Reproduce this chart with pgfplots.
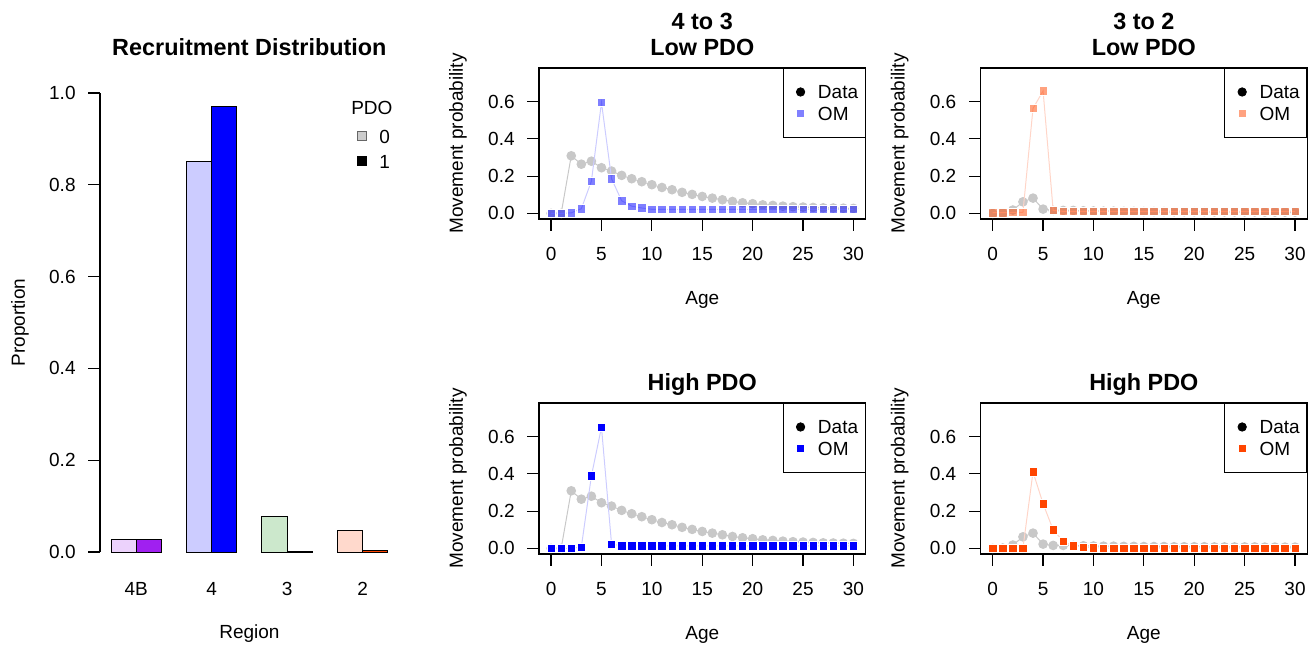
\documentclass[border=0pt]{standalone}
\usepackage{fontspec}
\setmainfont{Liberation Sans}
\usepackage{pgfplots}
\usepackage{pgfplotstable}
\pgfplotsset{compat=1.18}

\definecolor{purpleL}{HTML}{ECD2FC}
\definecolor{purpleD}{HTML}{A020F0}
\definecolor{blueL}{HTML}{CCCCFF}
\definecolor{blueD}{HTML}{0000FF}
\definecolor{greenL}{HTML}{CCE8CC}
\definecolor{greenD}{HTML}{008B00}
\definecolor{redL}{HTML}{FFD9CC}
\definecolor{redD}{HTML}{FF4500}
\definecolor{datagray}{HTML}{C8C8C8}
\definecolor{blueline}{HTML}{CCCCFF}
\definecolor{redline}{HTML}{FFD5C8}
\definecolor{blueblend}{HTML}{8080FF}
\definecolor{redblend}{HTML}{FFA280}

% movement probabilities by age
\pgfplotstableread{
age d43   oml43 omh43 d32   oml32 omh32
0   0.000 0.000 0.000 0.000 0.004 0.000
1   0.000 0.000 0.000 0.002 0.004 0.000
2   0.309 0.003 0.000 0.018 0.005 0.000
3   0.264 0.025 0.007 0.062 0.005 0.000
4   0.280 0.173 0.389 0.082 0.563 0.410
5   0.245 0.595 0.650 0.023 0.657 0.240
6   0.227 0.186 0.023 0.016 0.016 0.099
7   0.204 0.068 0.014 0.016 0.011 0.039
8   0.186 0.039 0.014 0.016 0.011 0.014
9   0.170 0.029 0.014 0.014 0.011 0.007
10  0.154 0.022 0.014 0.013 0.011 0.003
11  0.139 0.022 0.014 0.012 0.011 0.002
12  0.127 0.022 0.014 0.012 0.011 0.001
13  0.113 0.022 0.014 0.011 0.011 0.001
14  0.102 0.022 0.014 0.011 0.011 0.001
15  0.091 0.022 0.014 0.010 0.011 0.001
16  0.082 0.022 0.014 0.010 0.011 0.001
17  0.073 0.022 0.014 0.010 0.011 0.001
18  0.064 0.022 0.014 0.009 0.011 0.001
19  0.057 0.022 0.014 0.009 0.011 0.001
20  0.052 0.022 0.014 0.009 0.011 0.001
21  0.046 0.022 0.014 0.009 0.011 0.001
22  0.043 0.022 0.014 0.008 0.011 0.001
23  0.039 0.022 0.014 0.008 0.011 0.001
24  0.036 0.022 0.014 0.008 0.011 0.001
25  0.034 0.022 0.014 0.008 0.011 0.001
26  0.032 0.022 0.014 0.008 0.011 0.001
27  0.030 0.022 0.014 0.007 0.011 0.001
28  0.029 0.022 0.014 0.007 0.011 0.001
29  0.028 0.022 0.014 0.007 0.011 0.001
30  0.027 0.022 0.014 0.007 0.011 0.001
}\movetable

\tikzset{titlefont/.style={font=\bfseries\fontsize{11.7}{14}\selectfont}}

\pgfplotsset{
  every axis/.append style={
    font=\fontsize{9.5}{11.4}\selectfont,
    /pgf/number format/assume math mode=true,
    scale only axis,
    tick align=outside,
    major tick length=5.8pt,
    every tick/.style={black, line width=0.6pt},
    yticklabel style={anchor=east, inner sep=0pt, xshift=-6.2pt},
  },
  legmark/.style={legend image code/.code={%
    \path[draw=none, fill=none] (0pt,-3pt) rectangle (14pt,3pt);
    \draw[##1] plot coordinates {(5.3pt,0pt)};}},
  panel/.style={
    anchor=south west,
    width=163.25pt, height=75.5pt,
    xmin=-1.2, xmax=31.2, ymin=-0.03, ymax=0.78,
    clip mode=individual,
    xtick={0,5,10,15,20,25,30},
    ytick={0,0.2,0.4,0.6},
    yticklabel style={/pgf/number format/fixed, /pgf/number format/fixed zerofill,
      /pgf/number format/precision=1},
    xticklabel style={anchor=north, inner sep=0pt, yshift=-8.2pt},
    xtick pos=bottom, ytick pos=left,
    axis line style={line width=0.6pt},
    xlabel={Age}, ylabel={Movement probability},
    every axis x label/.style={at={(axis description cs:0.5,-0.537)}, anchor=center},
    every axis y label/.style={at={(axis description cs:-0.248,0.5)}, rotate=90, anchor=center},
    every axis title/.style={at={(axis description cs:0.5,1)}, anchor=base, yshift=6.2pt, titlefont},
    legend style={at={(axis description cs:1,1)}, anchor=north east, draw=black,
      inner xsep=3.5pt, inner ysep=8.3pt, row sep=3.8pt,
      nodes={inner sep=0pt, text height=7pt, text depth=0pt}},
    legend cell align=left,
  },
  dataplot/.style={forget plot, draw=datagray, line width=0.5pt, mark=*, mark size=2.15pt,
    mark options={draw=none, fill=datagray}},
  omplot/.style={forget plot, draw=#1, line width=0.5pt, mark=square*, mark size=2.1pt},
}

\begin{document}
\begin{tikzpicture}
\path (0pt,0pt) rectangle (656.5pt,324pt);

% recruitment bar chart
\begin{axis}[
  at={(50pt,38.8pt)}, anchor=south west,
  width=149.4pt, height=247.9pt,
  xmin=0.56, xmax=12.44, ymin=-0.04, ymax=1.04,
  axis line style={draw=none},
  xtick={2,5,8,11}, xticklabels={4B,4,3,2},
  xtick style={draw=none},
  xticklabel style={anchor=north, inner sep=0pt, yshift=0pt},
  ytick={0,0.2,0.4,0.6,0.8,1},
  yticklabel style={/pgf/number format/fixed, /pgf/number format/fixed zerofill,
    /pgf/number format/precision=1},
  xtick pos=bottom, ytick pos=left,
  xlabel={Region}, ylabel={Proportion},
  every axis x label/.style={at={(axis description cs:0.5,-0.127)}, anchor=center},
  every axis y label/.style={at={(axis description cs:-0.2677,0.5)}, rotate=90, anchor=center},
  title={Recruitment Distribution},
  every axis title/.style={at={(axis description cs:0.5,1)}, anchor=base, yshift=9.7pt, titlefont},
  clip=false,
  legend style={at={(axis description cs:0.84,0.891)}, anchor=north west, draw=none, fill=none,
    inner xsep=0pt, inner ysep=0pt, row sep=5.5pt,
    nodes={inner sep=0pt, text height=7pt, text depth=0pt}},
  legend cell align=left,
]
\draw[line width=0.6pt] (axis cs:0.56,0) -- (axis cs:0.56,1);
\addplot[forget plot, ybar, bar width=1, bar shift=0pt, fill=purpleL, draw=black, line width=0.5pt] coordinates {(1.5,0.027)};
\addplot[forget plot, ybar, bar width=1, bar shift=0pt, fill=purpleD, draw=black, line width=0.5pt] coordinates {(2.5,0.028)};
\addplot[forget plot, ybar, bar width=1, bar shift=0pt, fill=blueL, draw=black, line width=0.5pt] coordinates {(4.5,0.850)};
\addplot[forget plot, ybar, bar width=1, bar shift=0pt, fill=blueD, draw=black, line width=0.5pt] coordinates {(5.5,0.970)};
\addplot[forget plot, ybar, bar width=1, bar shift=0pt, fill=greenL, draw=black, line width=0.5pt] coordinates {(7.5,0.077)};
\addplot[forget plot, ybar, bar width=1, bar shift=0pt, fill=greenD, draw=black, line width=0.5pt] coordinates {(8.5,0.002)};
\addplot[forget plot, ybar, bar width=1, bar shift=0pt, fill=redL, draw=black, line width=0.5pt] coordinates {(10.5,0.046)};
\addplot[forget plot, ybar, bar width=1, bar shift=0pt, fill=redD, draw=black, line width=0.5pt] coordinates {(11.5,0.004)};
\node at (axis description cs:0.91,0.933) {PDO};
\addlegendimage{legmark, mark=square*, mark size=2.1pt, mark options={fill=gray!40, draw=black!60, line width=0.5pt}}
\addlegendentry{0}
\addlegendimage{legmark, mark=square*, mark size=2.1pt, mark options={fill=black, draw=black}}
\addlegendentry{1}
\end{axis}

% 4 to 3, low PDO
\begin{axis}[panel, at={(269.5pt,214.5pt)}, title={Low PDO}]
\node[titlefont, anchor=base] at (axis description cs:0.5,1) [yshift=19.2pt] {4 to 3};
\addplot[dataplot] table[x=age, y=d43] {\movetable};
\addplot[omplot=blueline, mark options={fill=blueD, fill opacity=0.5, draw=white, line width=0.3pt}] table[x=age, y=oml43] {\movetable};
\addlegendimage{legmark, mark=*, mark size=2.1pt, mark options={fill=black, draw=black}}
\addlegendentry{Data}
\addlegendimage{legmark, mark=square*, mark size=2.1pt, mark options={fill=blueblend, draw=white}}
\addlegendentry{OM}
\end{axis}

% 3 to 2, low PDO
\begin{axis}[panel, at={(490.3pt,214.5pt)}, title={Low PDO}]
\node[titlefont, anchor=base] at (axis description cs:0.5,1) [yshift=19.2pt] {3 to 2};
\addplot[dataplot] table[x=age, y=d32] {\movetable};
\addplot[omplot=redline, mark options={fill=redD, fill opacity=0.5, draw=white, line width=0.3pt}] table[x=age, y=oml32] {\movetable};
\addlegendimage{legmark, mark=*, mark size=2.1pt, mark options={fill=black, draw=black}}
\addlegendentry{Data}
\addlegendimage{legmark, mark=square*, mark size=2.1pt, mark options={fill=redblend, draw=white}}
\addlegendentry{OM}
\end{axis}

% 4 to 3, high PDO
\begin{axis}[panel, at={(269.5pt,47pt)}, title={High PDO}]
\addplot[dataplot] table[x=age, y=d43] {\movetable};
\addplot[omplot=blueline, mark options={fill=blueD, draw=white, line width=0.3pt}] table[x=age, y=omh43] {\movetable};
\addlegendimage{legmark, mark=*, mark size=2.1pt, mark options={fill=black, draw=black}}
\addlegendentry{Data}
\addlegendimage{legmark, mark=square*, mark size=2.1pt, mark options={fill=blueD, draw=white}}
\addlegendentry{OM}
\end{axis}

% 3 to 2, high PDO
\begin{axis}[panel, at={(490.3pt,47pt)}, title={High PDO}]
\addplot[dataplot] table[x=age, y=d32] {\movetable};
\addplot[omplot=redline, mark options={fill=redD, draw=white, line width=0.3pt}] table[x=age, y=omh32] {\movetable};
\addlegendimage{legmark, mark=*, mark size=2.1pt, mark options={fill=black, draw=black}}
\addlegendentry{Data}
\addlegendimage{legmark, mark=square*, mark size=2.1pt, mark options={fill=redD, draw=white}}
\addlegendentry{OM}
\end{axis}
\end{tikzpicture}
\end{document}
